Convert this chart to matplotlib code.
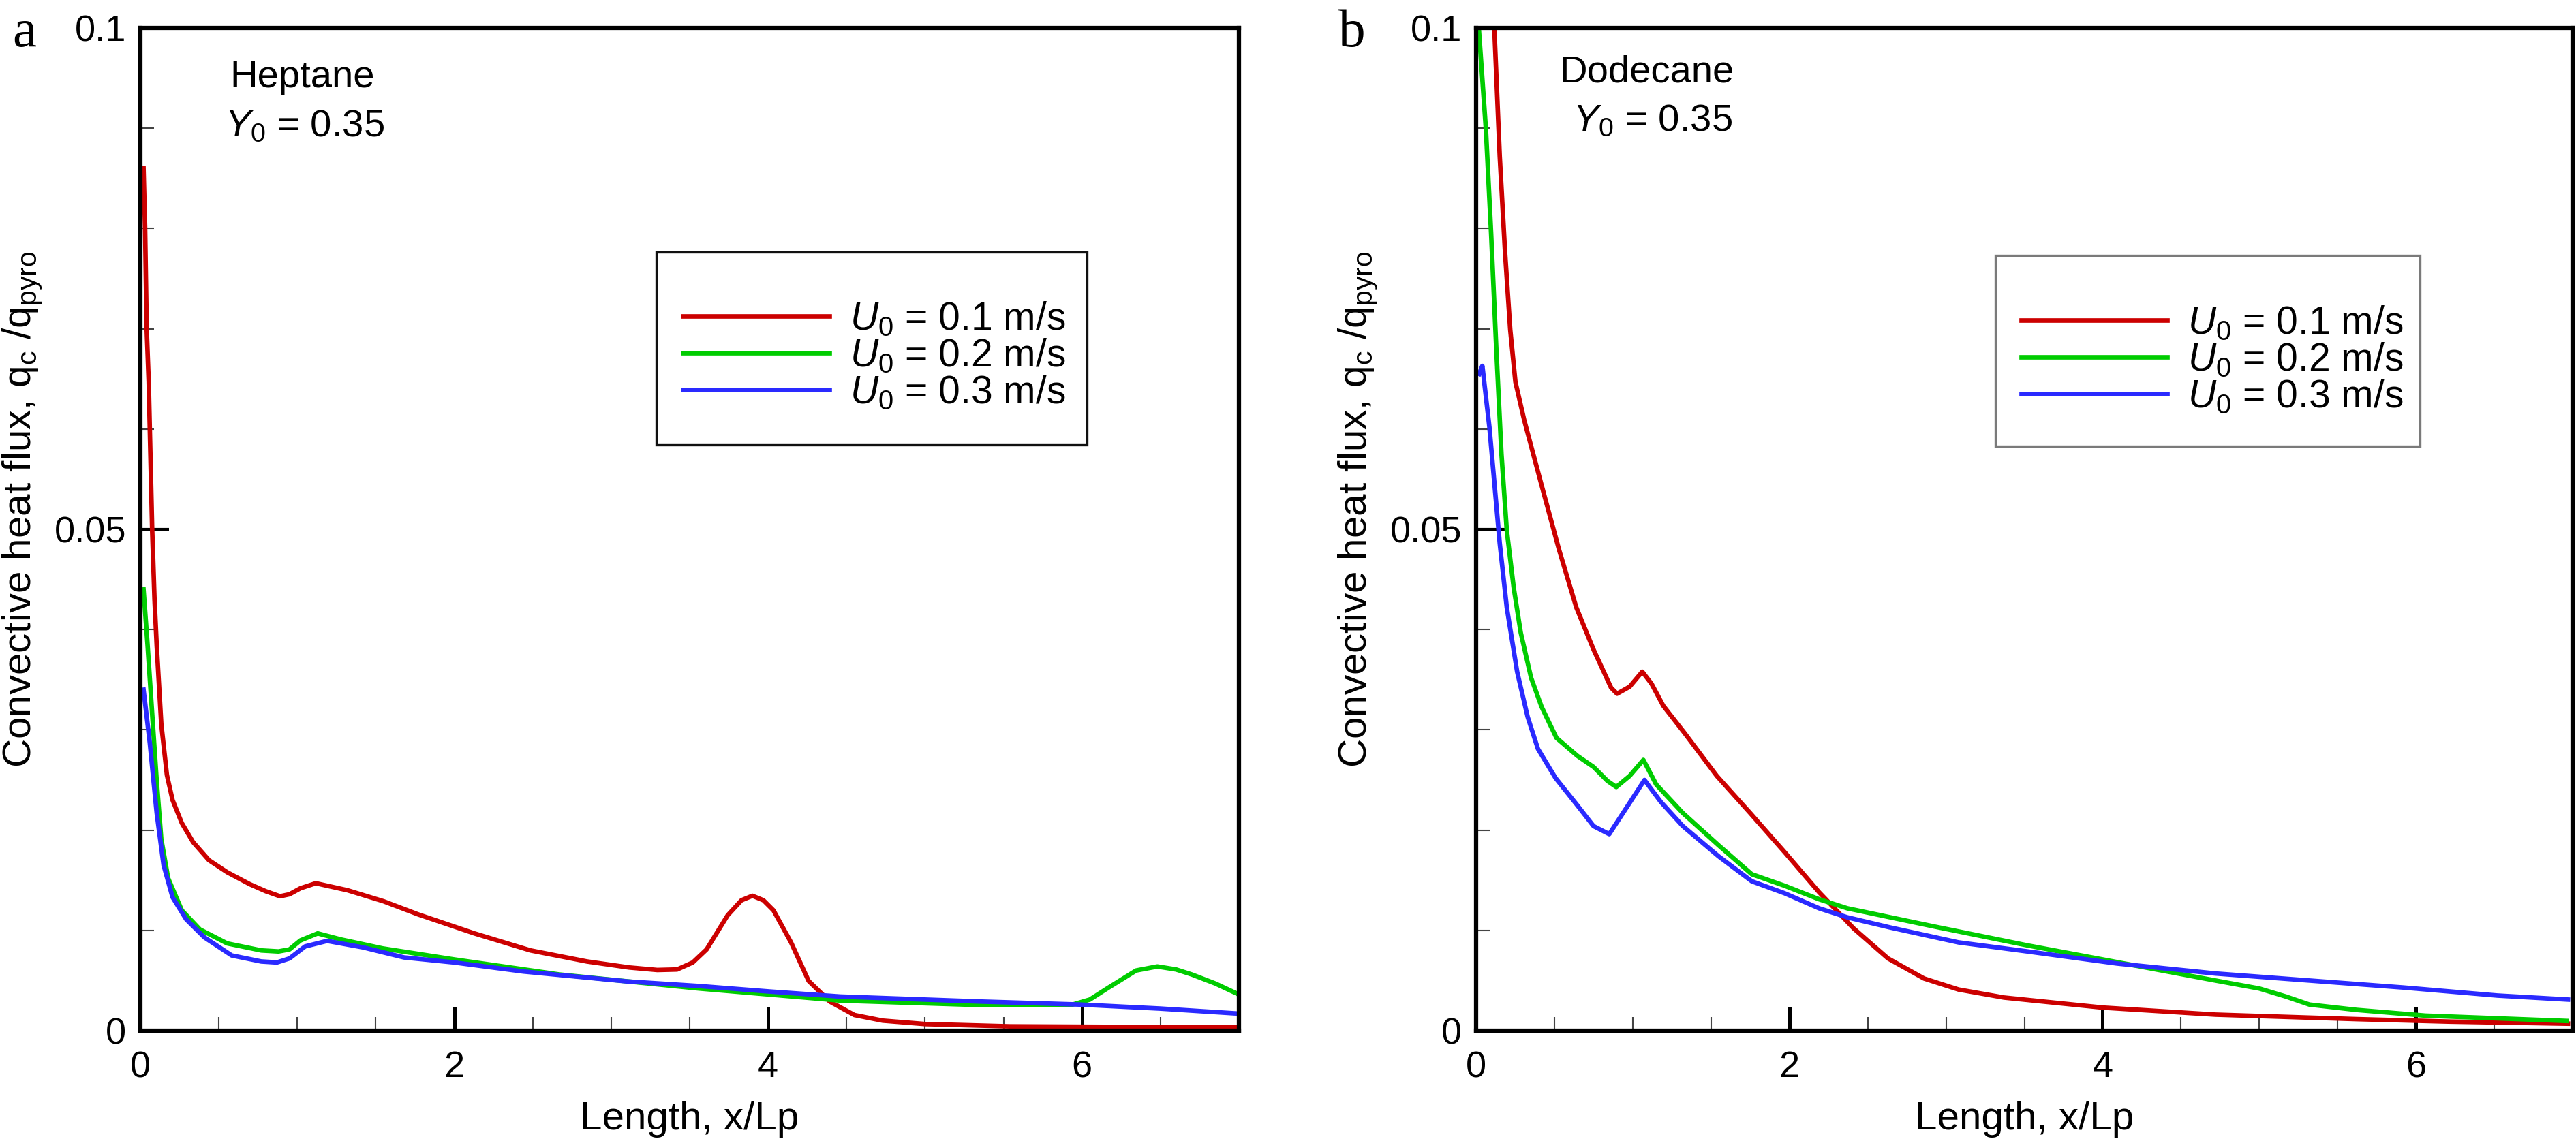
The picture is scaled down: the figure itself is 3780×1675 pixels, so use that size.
import matplotlib
matplotlib.use("Agg")
import matplotlib.pyplot as plt
from matplotlib.ticker import MultipleLocator, FixedLocator, FormatStrFormatter
from matplotlib.patches import Rectangle
import numpy as np

plt.rcParams['font.family'] = ['Liberation Sans', 'DejaVu Sans']
plt.rcParams['mathtext.fontset'] = 'custom'
plt.rcParams['mathtext.rm'] = 'Liberation Sans'
plt.rcParams['mathtext.it'] = 'Liberation Sans:italic'
plt.rcParams['mathtext.bf'] = 'Liberation Sans:bold'

# ---------------- data (y in units of 1e-3) ----------------
series_labels = ["$U_0$ = 0.1 m/s", "$U_0$ = 0.2 m/s", "$U_0$ = 0.3 m/s"]
colors = ["#cc0000", "#00cc00", "#2a2aff"]

# Panel a: Heptane
hep_red_x = [0.02, 0.03, 0.04, 0.053, 0.075, 0.09, 0.104, 0.133, 0.169, 0.205, 0.264, 0.336, 0.437, 0.553, 0.698,
             0.80, 0.89, 0.95, 1.02, 1.118, 1.32, 1.55, 1.769, 2.128, 2.486, 2.845, 3.114, 3.294, 3.42, 3.52, 3.608,
             3.742, 3.83, 3.90, 3.97, 4.034, 4.146, 4.258, 4.393, 4.55, 4.73, 5.0, 5.54, 7.0]
hep_red_y = [86, 80, 70, 64.7, 50, 43, 38.4, 30.6, 25.5, 23.0, 20.7, 18.8, 17.0, 15.8, 14.6,
             13.9, 13.4, 13.6, 14.2, 14.7, 14.0, 12.9, 11.6, 9.7, 8.0, 6.9, 6.3, 6.05, 6.1, 6.8, 8.1,
             11.5, 13.0, 13.45, 13.0, 12.0, 8.8, 4.96, 2.9, 1.56, 1.0, 0.66, 0.43, 0.32]

hep_green_x = [0.02, 0.046, 0.075, 0.104, 0.133, 0.177, 0.264, 0.379, 0.553, 0.77, 0.88, 0.95, 1.02, 1.13, 1.276,
               1.544, 2.0, 2.67, 3.56, 4.46, 5.36, 5.94, 6.05, 6.17, 6.345, 6.48, 6.60, 6.70, 6.85, 7.0]
hep_green_y = [44, 38.4, 31.6, 24.9, 19.1, 15.2, 12.0, 10.1, 8.7, 8.0, 7.9, 8.1, 9.0, 9.7, 9.1,
               8.2, 7.1, 5.6, 4.2, 3.0, 2.55, 2.6, 3.1, 4.3, 6.0, 6.4, 6.1, 5.6, 4.7, 3.6]

hep_blue_x = [0.02, 0.06, 0.104, 0.148, 0.205, 0.292, 0.408, 0.582, 0.77, 0.87, 0.95, 1.05, 1.19, 1.42, 1.68,
              2.0, 2.44, 3.11, 3.56, 4.01, 4.46, 4.91, 5.36, 5.99, 6.5, 7.0]
hep_blue_y = [34, 28.7, 21.7, 16.5, 13.3, 11.1, 9.3, 7.5, 6.9, 6.8, 7.2, 8.4, 8.95, 8.3, 7.3,
              6.8, 5.9, 4.9, 4.45, 3.9, 3.4, 3.15, 2.9, 2.6, 2.2, 1.7]

# Panel b: Dodecane
dod_red_x = [0.115, 0.151, 0.185, 0.218, 0.251, 0.307, 0.418, 0.529, 0.64, 0.75, 0.862, 0.90, 0.98, 1.061, 1.12,
             1.195, 1.33, 1.537, 1.75, 1.97, 2.19, 2.41, 2.63, 2.86, 3.08, 3.37, 4.0, 4.72, 5.62, 6.22, 6.97]
dod_red_y = [100.5, 87.2, 77.6, 69.9, 64.7, 60.9, 54.4, 48.0, 42.2, 38.0, 34.2, 33.6, 34.3, 35.8, 34.6,
             32.4, 29.7, 25.4, 21.7, 17.8, 13.8, 10.2, 7.2, 5.2, 4.1, 3.3, 2.3, 1.6, 1.15, 0.9, 0.7]

dod_green_x = [0.017, 0.063, 0.096, 0.129, 0.162, 0.196, 0.24, 0.285, 0.351, 0.418, 0.513, 0.647, 0.75, 0.839, 0.895,
               0.98, 1.068, 1.15, 1.32, 1.547, 1.76, 1.97, 2.19, 2.37, 2.92, 3.52, 4.0, 4.72, 5.0, 5.17, 5.32, 5.62,
               6.06, 6.96]
dod_green_y = [100, 89.8, 79.5, 68, 57.5, 49.9, 44.2, 39.7, 35.2, 32.3, 29.2, 27.4, 26.3, 24.9, 24.3,
               25.4, 27.0, 24.55, 21.7, 18.5, 15.6, 14.45, 13.1, 12.2, 10.4, 8.5, 7.1, 5.0, 4.2, 3.4, 2.6, 2.07,
               1.5, 0.97]

dod_blue_x = [0.02, 0.04, 0.085, 0.118, 0.151, 0.196, 0.262, 0.329, 0.395, 0.507, 0.64, 0.75, 0.85, 0.963, 1.075,
              1.18, 1.32, 1.547, 1.76, 1.97, 2.19, 2.37, 2.64, 3.08, 3.52, 4.09, 4.72, 5.32, 5.92, 6.52, 6.97]
dod_blue_y = [65.5, 66.3, 60.2, 54.4, 48.6, 42.2, 35.8, 31.3, 28.1, 25.2, 22.6, 20.4, 19.6, 22.3, 25.0,
              22.8, 20.4, 17.4, 14.9, 13.7, 12.2, 11.3, 10.3, 8.8, 7.9, 6.7, 5.7, 5.0, 4.3, 3.5, 3.1]

x_limits = (0, 7)
y_limits = (0, 0.1)
y_major_ticks = [0, 0.05, 0.1]
xlabel = "Length, x/Lp"
ylabel = r"Convective heat flux, q$_{\rm c}$ /q$_{\rm pyro}$"

panels = [
    dict(letter="a", fuel="Heptane",
         series=[(hep_red_x, hep_red_y), (hep_green_x, hep_green_y), (hep_blue_x, hep_blue_y)]),
    dict(letter="b", fuel="Dodecane",
         series=[(dod_red_x, dod_red_y), (dod_green_x, dod_green_y), (dod_blue_x, dod_blue_y)]),
]

# ---------------- layout ----------------
W, H = 3780, 1675
DPI = 300
fig = plt.figure(figsize=(W / DPI, H / DPI), dpi=DPI)

axes_px = [(206, 41, 1818, 1513), (2166, 41, 3775, 1513)]
letter_pos = [(18, 68), (1964, 68)]
text_pos = [((0.0813, 0.941), (0.0770, 0.892)), ((0.0758, 0.946), (0.0883, 0.897))]
legend_center = [(0.668, 0.6726), (0.6714, 0.6685)]
legend_frame = [(0.4696, 0.5842, 0.8617, 0.7765, "#111111"), (0.4736, 0.5829, 0.8608, 0.7731, "#7a7a7a")]

for i, p in enumerate(panels):
    l, t, r, b = axes_px[i]
    ax = fig.add_axes([l / W, 1 - b / H, (r - l) / W, (b - t) / H])
    handles = []
    for (xs, ys), c, lab in zip(p["series"], colors, series_labels):
        h, = ax.plot(xs, np.asarray(ys) * 1e-3, color=c, lw=1.6, label=lab, solid_joinstyle='round')
        handles.append(h)
    ax.set_xlim(*x_limits)
    ax.set_ylim(*y_limits)

    ax.xaxis.set_major_locator(MultipleLocator(2))
    ax.xaxis.set_minor_locator(MultipleLocator(0.5))
    ax.yaxis.set_major_locator(FixedLocator(y_major_ticks))
    ax.yaxis.set_minor_locator(MultipleLocator(0.01))
    ax.xaxis.set_major_formatter(FormatStrFormatter('%g'))
    ax.yaxis.set_major_formatter(FormatStrFormatter('%g'))

    ax.tick_params(axis='both', which='both', direction='in', top=False, right=False, labelsize=13)
    ax.tick_params(axis='x', which='major', length=8.5, width=1.2, pad=7)
    ax.tick_params(axis='y', which='major', length=10, width=1.0, pad=5)
    ax.tick_params(axis='both', which='minor', length=4.8, width=0.5, color='#444444')
    for s in ax.spines.values():
        s.set_linewidth(1.5)
        s.set_color('black')

    ax.set_xlabel(xlabel, fontsize=14)
    ax.set_ylabel(ylabel, fontsize=14)
    ax.xaxis.set_label_coords(0.5, -0.070)
    ax.yaxis.set_label_coords(-0.088, 0.52)

    (tx1, ty1), (tx2, ty2) = text_pos[i]
    ax.text(tx1, ty1, p["fuel"], transform=ax.transAxes, fontsize=13.5, va='baseline', ha='left')
    ax.text(tx2, ty2, "$Y_0$ = 0.35", transform=ax.transAxes, fontsize=13.5, va='baseline', ha='left')

    cx, cy = legend_center[i]
    ax.legend(handles=handles, loc='center', bbox_to_anchor=(cx, cy), frameon=False, fontsize=13.7,
              handlelength=3.76, handletextpad=0.52, labelspacing=0.0, borderpad=0, borderaxespad=0)
    x0, y0, x1, y1, ec = legend_frame[i]
    ax.add_patch(Rectangle((x0, y0), x1 - x0, y1 - y0, transform=ax.transAxes, fill=False,
                           ec=ec, lw=0.8, zorder=5))

    lx, ly = letter_pos[i]
    fig.text(lx / W, 1 - ly / H, p["letter"], family=['Liberation Serif', 'DejaVu Serif'], fontsize=19,
             va='baseline', ha='left')

fig.savefig("out.png", dpi=DPI)
